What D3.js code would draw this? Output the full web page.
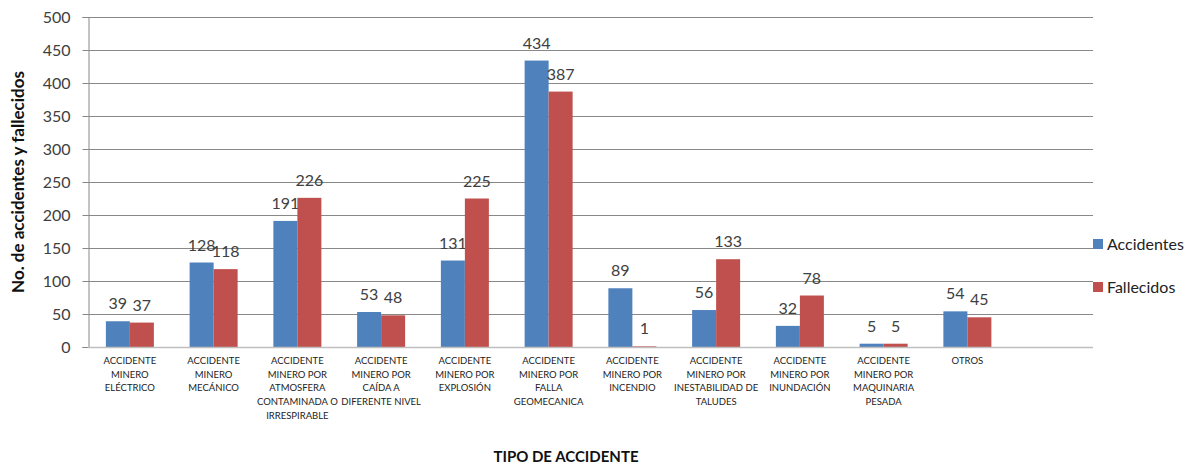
<!DOCTYPE html>
<html><head><meta charset="utf-8">
<script src="https://cdn.jsdelivr.net/npm/d3@7/dist/d3.min.js"></script>
<style>body{margin:0;background:#fff;overflow:hidden}svg{display:block;font-family:Lato,"Open Sans",sans-serif}</style>
</head><body><svg id="c" width="1188" height="464"></svg>
<script>
const categories = [
 "ACCIDENTE\nMINERO\nELÉCTRICO",
 "ACCIDENTE\nMINERO\nMECÁNICO",
 "ACCIDENTE\nMINERO POR\nATMOSFERA\nCONTAMINADA O\nIRRESPIRABLE",
 "ACCIDENTE\nMINERO POR\nCAÍDA A\nDIFERENTE NIVEL",
 "ACCIDENTE\nMINERO POR\nEXPLOSIÓN",
 "ACCIDENTE\nMINERO POR\nFALLA\nGEOMECANICA",
 "ACCIDENTE\nMINERO POR\nINCENDIO",
 "ACCIDENTE\nMINERO POR\nINESTABILIDAD DE\nTALUDES",
 "ACCIDENTE\nMINERO POR\nINUNDACIÓN",
 "ACCIDENTE\nMINERO POR\nMAQUINARIA\nPESADA",
 "OTROS",
 ""
];
const accidentes = [39,128,191,53,131,434,89,56,32,5,54];
const fallecidos = [37,118,226,48,225,387,1,133,78,5,45];
const seriesNames = ["Accidentes","Fallecidos"];
const colors = ["#4F81BD","#C0504D"];
const yTicks = [0,50,100,150,200,250,300,350,400,450,500];

(function(){
const svg = d3.select("#c");
const pL = 88, pR = 1093, pT = 17, pB = 347;
const x = d3.scaleBand().domain(d3.range(categories.length)).range([pL,pR]).paddingInner(0).paddingOuter(0);
const y = d3.scaleLinear().domain([0,500]).range([pB,pT]);
const barW = 24;

svg.append("g").selectAll("line").data(yTicks.filter(d=>d>0)).join("line")
 .attr("x1",pL).attr("x2",pR).attr("y1",d=>Math.round(y(d))+0.5).attr("y2",d=>Math.round(y(d))+0.5)
 .attr("stroke","#888").attr("stroke-width",1);

const ya = svg.append("g").attr("transform",`translate(${pL+0.5},0)`)
 .call(d3.axisLeft(y).tickValues(yTicks).tickSize(6).tickPadding(12));
ya.select(".domain").attr("stroke","#888");
ya.selectAll(".tick line").attr("stroke","#888");
ya.selectAll(".tick text").attr("font-size","16px").attr("fill","#404040").attr("font-family","Lato,'Open Sans',sans-serif");

const series = [accidentes, fallecidos];
series.forEach((vals,si)=>{
  const g = svg.append("g");
  g.selectAll("rect").data(vals).join("rect")
   .attr("x",(d,i)=>x(i)+x.bandwidth()/2 - barW + si*barW)
   .attr("y",d=>y(d)).attr("width",barW).attr("height",d=>y(0)-y(d))
   .attr("fill",colors[si]);
  g.selectAll("text").data(vals).join("text")
   .attr("x",(d,i)=>x(i)+x.bandwidth()/2 - barW/2 + si*barW)
   .attr("y",d=>y(d)-12).attr("text-anchor","middle")
   .attr("font-size","16px").attr("fill","#404040").text(d=>d);
});

svg.append("line").attr("x1",pL).attr("x2",pR).attr("y1",pB+0.5).attr("y2",pB+0.5)
 .attr("stroke","#bfbfbf").attr("stroke-width",1.5);

const cl = svg.append("g");
categories.forEach((c,i)=>{
  const t = cl.append("text").attr("text-anchor","middle").attr("font-size","9.5px").attr("fill","#222");
  c.split("\n").forEach((ln,j)=>{
    t.append("tspan").attr("x",x(i)+x.bandwidth()/2).attr("y",364+j*13.7).text(ln);
  });
});

svg.append("text").attr("transform","translate(24,182) rotate(-90)").attr("text-anchor","middle")
 .attr("font-size","17px").attr("font-weight","bold").attr("fill","#111").text("No. de accidentes y fallecidos");
svg.append("text").attr("x",566).attr("y",462).attr("text-anchor","middle")
 .attr("font-size","15px").attr("font-weight","bold").attr("fill","#111").text("TIPO DE ACCIDENTE");

const lg = svg.append("g");
seriesNames.forEach((n,i)=>{
  const yy = 244 + i*43;
  lg.append("rect").attr("x",1093).attr("y",yy-5).attr("width",10).attr("height",10).attr("fill",colors[i]);
  lg.append("text").attr("x",1107).attr("y",yy+6).attr("font-size","16px").attr("fill","#222").text(n);
});
})();
</script></body></html>
